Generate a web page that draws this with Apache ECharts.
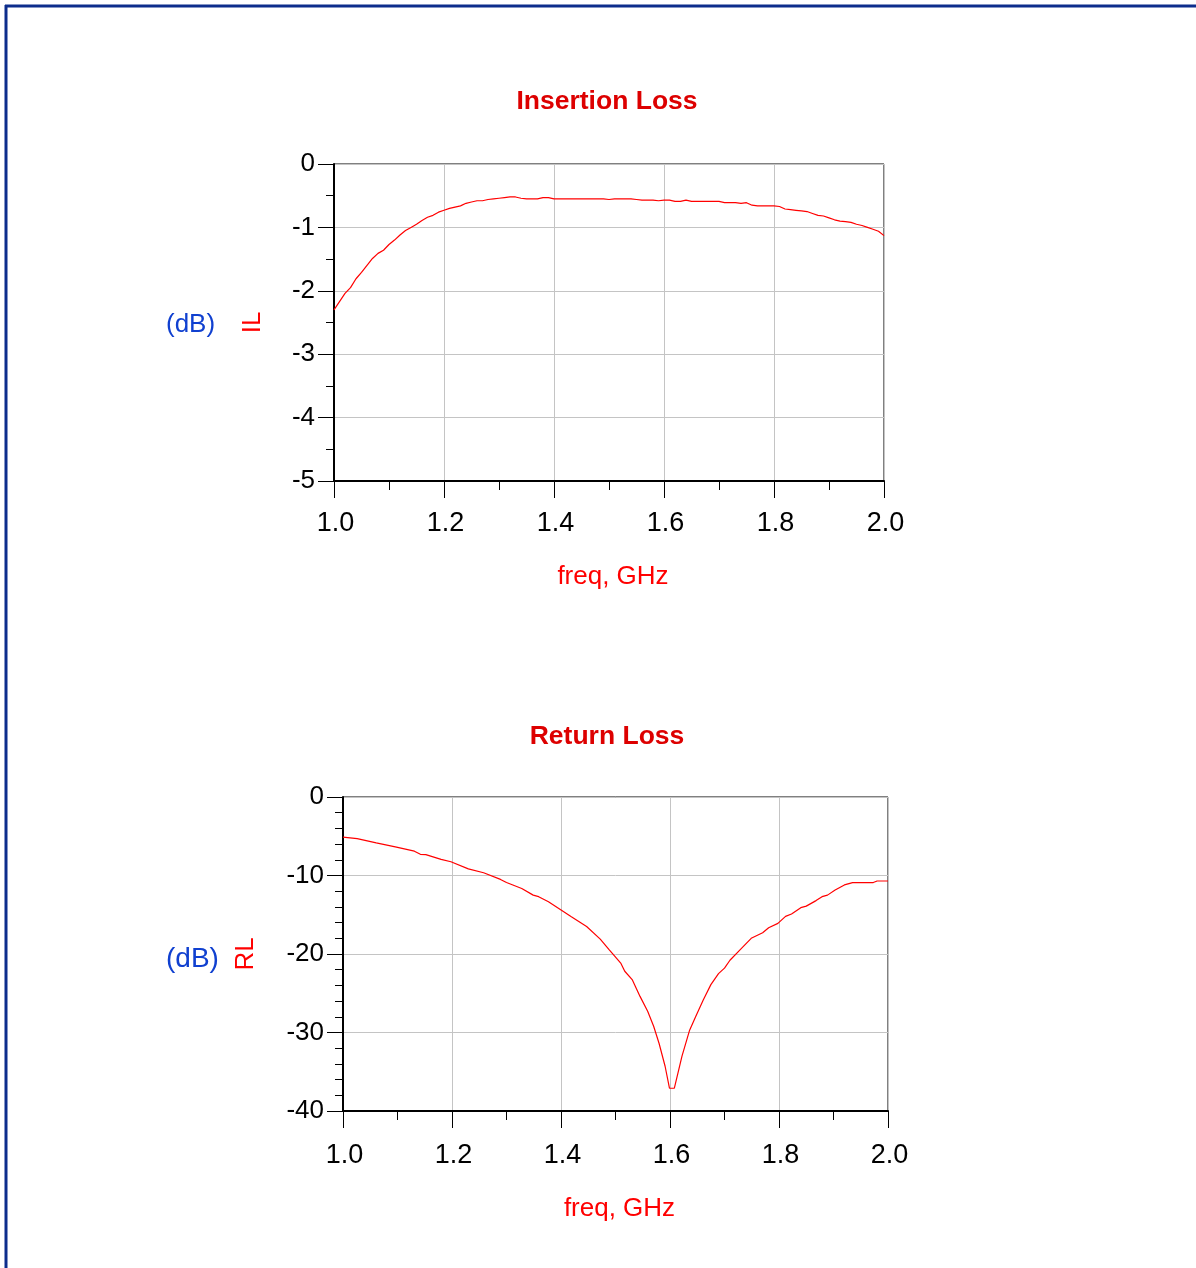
<!DOCTYPE html>
<html>
<head>
<meta charset="utf-8">
<script src="https://cdn.jsdelivr.net/npm/echarts@6/dist/echarts.min.js"></script>
<style>
html,body{margin:0;padding:0;background:#fff;}
#c{width:1196px;height:1268px;}
</style>
</head>
<body>
<div id="c"></div>
<script>
// Insertion loss (dB) vs frequency (GHz)
const ilFreq = [1.00,1.01,1.02,1.03,1.04,1.05,1.06,1.07,1.08,1.09,1.10,1.11,1.12,1.13,1.14,1.15,1.16,1.17,1.18,1.19,1.20,1.21,1.22,1.23,1.24,1.25,1.26,1.27,1.28,1.29,1.30,1.31,1.32,1.33,1.34,1.35,1.36,1.37,1.38,1.39,1.40,1.45,1.49,1.50,1.51,1.54,1.55,1.56,1.58,1.59,1.60,1.61,1.62,1.63,1.64,1.65,1.70,1.71,1.73,1.74,1.75,1.76,1.77,1.80,1.81,1.82,1.83,1.84,1.85,1.86,1.87,1.88,1.89,1.90,1.91,1.92,1.93,1.94,1.95,1.96,1.97,1.98,1.99,2.00];
const ilValues = [-2.30,-2.17,-2.04,-1.95,-1.81,-1.71,-1.60,-1.49,-1.41,-1.36,-1.27,-1.20,-1.12,-1.05,-1.00,-0.95,-0.89,-0.84,-0.81,-0.76,-0.73,-0.70,-0.68,-0.66,-0.62,-0.60,-0.58,-0.58,-0.56,-0.55,-0.54,-0.53,-0.52,-0.52,-0.54,-0.55,-0.55,-0.55,-0.53,-0.53,-0.55,-0.55,-0.55,-0.56,-0.55,-0.55,-0.56,-0.57,-0.57,-0.58,-0.57,-0.57,-0.59,-0.59,-0.57,-0.59,-0.59,-0.61,-0.61,-0.62,-0.61,-0.65,-0.66,-0.66,-0.67,-0.71,-0.72,-0.73,-0.74,-0.75,-0.78,-0.81,-0.82,-0.85,-0.88,-0.90,-0.91,-0.92,-0.95,-0.97,-1.00,-1.03,-1.06,-1.13];

// Return loss (dB) vs frequency (GHz)
const rlFreq = [1.000,1.026,1.061,1.096,1.131,1.142,1.152,1.180,1.198,1.230,1.258,1.289,1.300,1.328,1.349,1.359,1.377,1.398,1.419,1.447,1.472,1.489,1.510,1.517,1.531,1.545,1.559,1.570,1.580,1.591,1.599,1.608,1.622,1.636,1.647,1.661,1.675,1.689,1.700,1.710,1.728,1.749,1.770,1.781,1.798,1.812,1.823,1.840,1.850,1.868,1.879,1.889,1.903,1.920,1.935,1.952,1.973,1.980,2.000];
const rlValues = [-5.1,-5.3,-5.85,-6.35,-6.9,-7.3,-7.35,-7.95,-8.25,-9.15,-9.65,-10.5,-10.9,-11.65,-12.5,-12.7,-13.35,-14.3,-15.25,-16.5,-18.1,-19.5,-21.2,-22.2,-23.3,-25.4,-27.3,-29.2,-31.4,-34.3,-37.1,-37.1,-33.0,-29.7,-28.0,-25.85,-23.9,-22.5,-21.8,-20.8,-19.5,-18.0,-17.3,-16.65,-16.1,-15.2,-14.9,-14.1,-13.9,-13.2,-12.7,-12.5,-11.85,-11.2,-10.9,-10.9,-10.9,-10.7,-10.7];

const xTicks = ['1.0','1.2','1.4','1.6','1.8','2.0'];
const ilTicks = [0,-1,-2,-3,-4,-5];
const rlTicks = [0,-10,-20,-30,-40];

const titles = ['Insertion Loss','Return Loss'];
const xName = 'freq, GHz';
const yNames = ['IL','RL'];
const unitLabel = '(dB)';

const FONT = 'Arial, "Liberation Sans", Helvetica, sans-serif';

function xAxisCfg(gridIndex, nameGap, labelMargin){
  return {
    type:'value', gridIndex, min:1.0, max:2.0, interval:0.2,
    name:xName, nameLocation:'middle', nameGap,
    nameTextStyle:{color:'#ff0000', fontSize:26, fontFamily:FONT, padding:[0,0,0,8]},
    axisLine:{show:true, onZero:false, lineStyle:{color:'#000', width:2}},
    axisTick:{show:true, length:17, inside:false, lineStyle:{color:'#000', width:1}},
    minorTick:{show:true, splitNumber:2, length:9, lineStyle:{color:'#000', width:1}},
    axisLabel:{color:'#000', fontSize:27, fontFamily:FONT, margin:labelMargin, padding:[0,0,0,3], formatter:v=>v.toFixed(1)},
    splitLine:{show:true, lineStyle:{color:'#c4c4c4', width:1}}
  };
}
function yAxisCfg(gridIndex, min, interval, minorSplit, name, nameGap){
  return {
    type:'value', gridIndex, min, max:0, interval,
    name, nameLocation:'middle', nameGap, nameRotate:90,
    nameTextStyle:{color:'#ff0000', fontSize:26, fontFamily:FONT},
    axisLine:{show:true, onZero:false, lineStyle:{color:'#000', width:2}},
    axisTick:{show:true, length:16, lineStyle:{color:'#000', width:1}},
    minorTick:{show:true, splitNumber:minorSplit, length:8, lineStyle:{color:'#000', width:1}},
    axisLabel:{color:'#000', fontSize:26, fontFamily:FONT, margin:19},
    splitLine:{show:true, lineStyle:{color:'#c4c4c4', width:1}}
  };
}

const chart = echarts.init(document.getElementById('c'), null, {renderer:'canvas'});
chart.setOption({
  animation:false,
  backgroundColor:'#fff',
  title:[
    {text:titles[0], left:607, top:88, padding:0, textAlign:'center', textStyle:{color:'#dd0000', fontSize:26.5, fontWeight:'bold', fontFamily:FONT}},
    {text:titles[1], left:607, top:723, padding:0, textAlign:'center', textStyle:{color:'#dd0000', fontSize:26.5, fontWeight:'bold', fontFamily:FONT}}
  ],
  grid:[
    {left:334, top:164, width:550, height:317, show:true, borderColor:'#000', borderWidth:1, backgroundColor:'transparent'},
    {left:343, top:797, width:545, height:314, show:true, borderColor:'#000', borderWidth:1, backgroundColor:'transparent'}
  ],
  xAxis:[xAxisCfg(0,83,29), xAxisCfg(1,85,31)],
  yAxis:[yAxisCfg(0,-5,1,2,yNames[0],68), yAxisCfg(1,-40,10,5,yNames[1],84)],
  series:[
    {type:'line', xAxisIndex:0, yAxisIndex:0, data:ilFreq.map((f,i)=>[f,ilValues[i]]), showSymbol:false, lineStyle:{color:'#ff0000', width:1.2}, itemStyle:{color:'#ff0000'}},
    {type:'line', xAxisIndex:1, yAxisIndex:1, data:rlFreq.map((f,i)=>[f,rlValues[i]]), showSymbol:false, lineStyle:{color:'#ff0000', width:1.2}, itemStyle:{color:'#ff0000'}}
  ],
  graphic:[
    {type:'line', shape:{x1:5, y1:6, x2:1196, y2:6}, style:{stroke:'#0d2d8c', lineWidth:3}},
    {type:'line', shape:{x1:6, y1:5, x2:6, y2:1268}, style:{stroke:'#0d2d8c', lineWidth:3}},
    {type:'text', left:166, top:312, style:{text:unitLabel, fill:'#1040d0', fontSize:26, fontFamily:FONT}},
    {type:'text', left:166, top:945, style:{text:unitLabel, fill:'#1040d0', fontSize:28, fontFamily:FONT}}
  ]
});
</script>
</body>
</html>
